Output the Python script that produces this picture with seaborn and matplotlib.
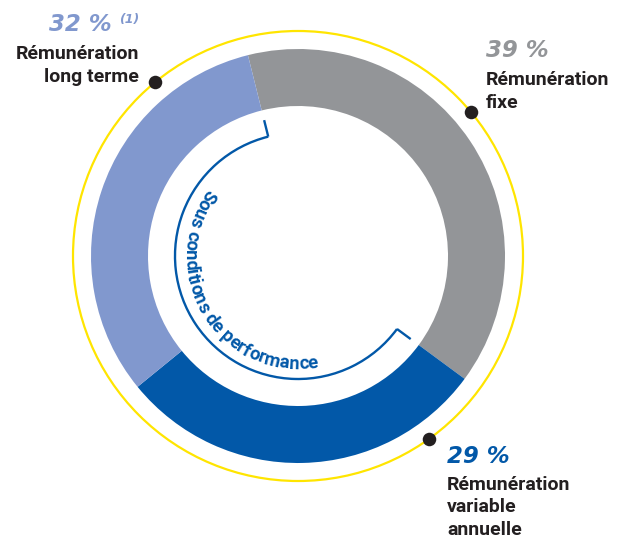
import numpy as np
import matplotlib
matplotlib.use("Agg")
import matplotlib.pyplot as plt
import seaborn as sns
from matplotlib.font_manager import FontProperties, findfont
from matplotlib.patches import Circle, Arc

# ---- data ----
categories = ["Rémunération\nfixe", "Rémunération\nvariable\nannuelle", "Rémunération\nlong terme"]
shares = [39, 29, 32]
pct_labels = ["39 %", "29 %", "32 %"]
note_labels = ["", "", "(1)"]
arc_caption = "Sous conditions de performance"

sns.set_theme(style="white")
plt.rcParams['font.family'] = ['Roboto', 'DejaVu Sans']

palette = sns.color_palette(["#939598", "#0258A8", "#8198CE"])
text_dark = "#231F20"
yellow = "#FFE500"
arc_blue = "#0258A8"

# narrow font for the curved caption if installed
arc_family = "Roboto"
try:
    findfont(FontProperties(family="Liberation Sans Narrow", weight="bold"),
             fallback_to_default=False)
    arc_family = "Liberation Sans Narrow"
except Exception:
    pass

W, H = 624, 540
fig = plt.figure(figsize=(W / 100, H / 100), dpi=100)
ax = fig.add_axes([0, 0, 1, 1])

cx, cy = 298, H - 256
R_out, R_in = 207, 150
ax.pie(shares, colors=palette, startangle=104, counterclock=False,
       radius=R_out, center=(cx, cy),
       wedgeprops=dict(width=R_out - R_in, linewidth=0, edgecolor="none"))
ax.set_xlim(0, W)
ax.set_ylim(0, H)
ax.set_aspect("equal")
ax.axis("off")

# yellow outer ring
R_y = 225
ax.add_patch(Circle((cx, cy), R_y, fill=False, ec=yellow, lw=1.6))

# black dots on the ring
dot_angles = [39.9, -54.3, 129.4]
for a in dot_angles:
    t = np.deg2rad(a)
    ax.scatter([cx + R_y * np.cos(t)], [cy + R_y * np.sin(t)], s=95, color=text_dark,
               zorder=5, linewidths=0)

# inner performance arc with ticks
R_a = 123
th1, th2 = 104, 360 - 36.4
ax.add_patch(Arc((cx, cy), 2 * R_a, 2 * R_a, theta1=th1, theta2=th2, color=arc_blue, lw=1.7))
for a in (th1, th2):
    t = np.deg2rad(a)
    ax.plot([cx + R_a * np.cos(t), cx + 140 * np.cos(t)],
            [cy + R_a * np.sin(t), cy + 140 * np.sin(t)], color=arc_blue, lw=1.7,
            solid_capstyle="butt")

# curved caption
renderer = fig.canvas.get_renderer()
R_b = 113
a_start, a_end = 143, 281
L = R_b * np.deg2rad(a_end - a_start)


def advances(fs):
    prop = FontProperties(family=arc_family, weight="bold", size=fs)
    base = renderer.get_text_width_height_descent("xx", prop, ismath=False)[0]
    out = []
    for ch in arc_caption:
        w = renderer.get_text_width_height_descent("x" + ch + "x", prop, ismath=False)[0] - base
        out.append(w)
    return np.array(out)


fs = 13.0
for _ in range(3):
    adv = advances(fs)
    fs = fs * L / adv.sum()
adv = advances(fs)
pos = np.cumsum(adv) - adv / 2
for ch, s in zip(arc_caption, pos):
    a = a_start + np.rad2deg(s / R_b)
    t = np.deg2rad(a)
    ax.text(cx + R_b * np.cos(t), cy + R_b * np.sin(t), ch, rotation=a + 90,
            rotation_mode="anchor", ha="center", va="baseline",
            fontsize=fs, fontweight="bold", color=arc_blue, family=arc_family)

# labels
pct_font = dict(family="DejaVu Sans", fontweight="bold", style="italic", fontsize=16.5)
lab_font = dict(family="Roboto", fontweight="bold", fontsize=14, color=text_dark)
line_gap = 22.5

label_pos = [  # (x, pct baseline, first line baseline, ha) in pixel rows from top
    (486, 57, 85, "left"),
    (447, 463, 490, "left"),
    (139, 31, 59, "right"),
]
for i, (x, yp, yl, ha) in enumerate(label_pos):
    if note_labels[i]:
        ax.text(x - 27, H - yp, pct_labels[i], ha="right", va="baseline",
                color=palette[i], **pct_font)
        ax.text(x - 20, H - yp + 8, note_labels[i], ha="left", va="baseline",
                color=palette[i], family="DejaVu Sans", style="italic",
                fontweight="bold", fontsize=9)
    else:
        ax.text(x, H - yp, pct_labels[i], ha=ha, va="baseline",
                color=palette[i], **pct_font)
    for j, line in enumerate(categories[i].split("\n")):
        ax.text(x, H - (yl + j * line_gap), line, ha=ha, va="baseline", **lab_font)

fig.savefig("out.png", dpi=100)
